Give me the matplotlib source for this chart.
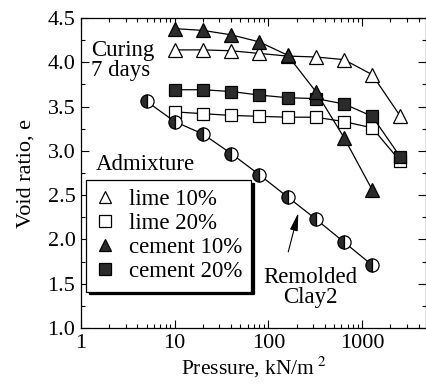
import matplotlib
matplotlib.use('Agg')
import matplotlib.pyplot as plt
from matplotlib.ticker import FixedLocator, MultipleLocator, LogLocator, NullFormatter

plt.rcParams['font.family'] = 'Liberation Serif'
plt.rcParams['mathtext.fontset'] = 'stix'

# datos
p_cured = [10, 20, 40, 80, 160, 320, 640, 1280, 2560]
e_lime10 = [4.14, 4.14, 4.13, 4.10, 4.07, 4.06, 4.03, 3.86, 3.39]
e_lime20 = [3.44, 3.42, 3.40, 3.39, 3.38, 3.38, 3.33, 3.26, 2.88]
p_cem10 = [10, 20, 40, 80, 160, 320, 640, 1280]
e_cem10 = [4.38, 4.36, 4.31, 4.23, 4.08, 3.67, 3.15, 2.56]
e_cem20 = [3.69, 3.69, 3.67, 3.63, 3.60, 3.59, 3.53, 3.39, 2.93]
p_remold = [5, 10, 20, 40, 80, 160, 320, 640, 1280]
e_remold = [3.56, 3.33, 3.19, 2.97, 2.73, 2.48, 2.23, 1.97, 1.71]

oscuro = '#2b2b2b'

fig = plt.figure(figsize=(4.26, 3.86), dpi=100)
ax = fig.add_axes([81/426, 58/386, 345/426, 310/386])

ax.plot(p_cured, e_lime10, '-^', color='k', lw=0.9, ms=10.5, mfc='white', mec='k', mew=0.9, zorder=3, label='lime 10%')
ax.plot(p_cured, e_lime20, '-s', color='k', lw=0.9, ms=9, mfc='white', mec='k', mew=0.9, zorder=3, label='lime 20%')
ax.plot(p_cured, e_cem20, '-s', color='k', lw=0.9, ms=9, mfc=oscuro, mec='k', mew=0.9, zorder=4, label='cement 20%')
ax.plot(p_cem10, e_cem10, '-^', color='k', lw=0.9, ms=10.5, mfc=oscuro, mec='k', mew=0.9, zorder=5, label='cement 10%')
ax.plot(p_remold, e_remold, '-o', color='k', lw=0.9, ms=9.5, fillstyle='left', mfc=oscuro, mfcalt='white', mec='k', mew=0.9, zorder=3)

ax.set_xscale('log')
ax.set_xlim(1, 4800)
ax.set_ylim(1.0, 4.5)
ax.xaxis.set_major_locator(FixedLocator([1, 10, 100, 1000]))
ax.xaxis.set_minor_locator(LogLocator(base=10, subs=range(2, 10), numticks=20))
ax.xaxis.set_minor_formatter(NullFormatter())
ax.set_xticklabels(['1', '10', '100', '1000'])
ax.yaxis.set_major_locator(MultipleLocator(0.5))
ax.yaxis.set_minor_locator(MultipleLocator(0.25))
ax.yaxis.set_major_formatter(plt.FormatStrFormatter('%.1f'))
ax.tick_params(which='both', direction='in', top=True, right=True, labelsize=16, width=0.8, pad=4)
ax.tick_params(which='major', length=6)
ax.tick_params(which='minor', length=3)
for s in ax.spines.values():
    s.set_linewidth(0.9)

ax.set_xlabel('Pressure, kN/m$^{\\ 2}$', fontsize=15.5, labelpad=2)
ax.set_ylabel('Void ratio, e', fontsize=16, labelpad=9)

ax.text(1.27, 4.02, 'Curing\n7 days', fontsize=16.5, ha='left', va='center', linespacing=0.95)
ax.text(1.45, 2.85, 'Admixture', fontsize=16.5, ha='left', va='center')
ax.text(280, 1.46, 'Remolded\nClay2', fontsize=16.5, ha='center', va='center', linespacing=0.95)
ax.annotate('', xy=(212, 2.33), xytext=(160, 1.83),
            arrowprops=dict(arrowstyle='-|>,head_length=0.9,head_width=0.2', color='k', lw=0.8, mutation_scale=12))

handles, labels = ax.get_legend_handles_labels()
orden = [0, 1, 3, 2]
leg = ax.legend([handles[i] for i in orden], [labels[i] for i in orden],
                loc='upper left', bbox_to_anchor=(0.015, 0.477), borderaxespad=0,
                fontsize=16.5, handlelength=0.8, handletextpad=0.65, labelspacing=0.13,
                borderpad=0.4, fancybox=False, edgecolor='k', framealpha=1,
                shadow={'ox': 2, 'oy': -2, 'facecolor': 'k', 'edgecolor': 'k', 'alpha': 1})
leg.get_frame().set_linewidth(0.9)
for h in leg.legend_handles:
    h.set_linestyle('None')
    h.set_markersize(8)

fig.savefig('out.png', dpi=100)
